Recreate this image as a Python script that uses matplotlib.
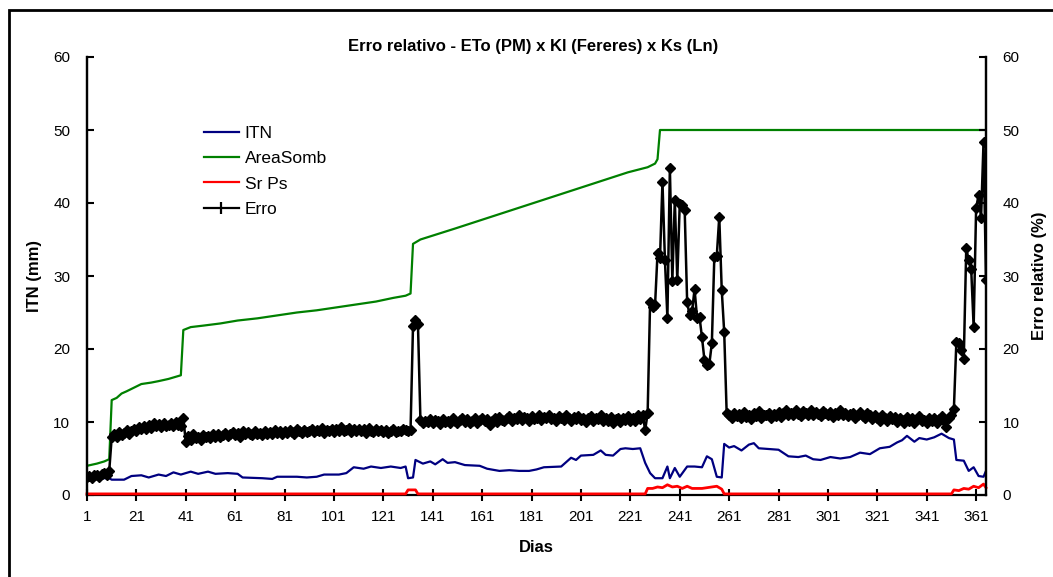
import matplotlib
matplotlib.use('Agg')
import matplotlib.pyplot as plt
import numpy as np
from matplotlib.lines import Line2D
from matplotlib.patches import Rectangle

plt.rcParams['font.family'] = ['Liberation Sans', 'DejaVu Sans']

# Erro relativo (%), um valor por dia (1..365)
erro = [
    2.4, 2.6, 2.3, 2.7, 2.8, 2.5, 2.9, 3.0, 2.8, 3.3,
    7.9, 8.3, 8.0, 8.6, 8.2, 8.5, 8.9, 8.4, 8.8, 9.1,
    8.7, 9.3, 9.0, 9.5, 9.1, 9.6, 9.2, 9.8, 9.4, 9.7,
    9.3, 9.9, 9.5, 9.6, 9.8, 9.4, 10.0, 9.6, 9.5, 10.6,
    7.2, 8.1, 7.6, 8.3, 7.8, 8.0, 7.5, 8.2, 7.9, 8.1,
    7.8, 8.3, 8.0, 8.4, 7.9, 8.2, 8.5, 8.1, 8.3, 8.6,
    8.2, 8.5, 8.0, 8.7, 8.3, 8.6, 8.4, 8.2, 8.7, 8.4,
    8.5, 8.2, 8.8, 8.4, 8.6, 8.3, 8.9, 8.5, 8.7, 8.4,
    8.8, 8.5, 8.9, 8.6, 8.4, 9.0, 8.7, 8.5, 8.9, 8.6,
    8.8, 9.1, 8.6, 8.9, 8.7, 9.2, 8.5, 8.9, 8.7, 9.0,
    8.6, 9.1, 8.8, 9.3, 8.7, 8.9, 9.2, 8.6, 9.0, 8.8,
    9.1, 8.7, 9.0, 8.5, 9.2, 8.8, 8.6, 9.0, 8.7, 8.9,
    8.6, 8.9, 8.5, 8.8, 9.0, 8.6, 8.8, 8.7, 9.0, 8.9,
    8.7, 8.9, 23.2, 24.0, 23.4, 10.3, 9.8, 10.2, 10.0, 10.4,
    9.9, 10.3, 10.1, 9.7, 10.4, 10.0, 10.2, 9.8, 10.5, 10.1,
    9.9, 10.3, 10.6, 10.0, 10.4, 9.8, 10.2, 10.5, 9.9, 10.3,
    10.6, 10.1, 10.4, 9.6, 10.2, 10.5, 10.0, 10.7, 10.3, 10.1,
    10.5, 10.8, 10.2, 10.6, 10.4, 10.9, 10.3, 10.7, 10.5, 10.2,
    10.8, 10.4, 10.6, 11.0, 10.3, 10.7, 10.5, 10.9, 10.4, 10.6,
    10.2, 10.8, 10.5, 10.3, 10.9, 10.6, 10.1, 10.7, 10.4, 10.8,
    10.3, 10.6, 10.0, 10.5, 10.8, 10.2, 10.6, 10.4, 10.9, 10.1,
    10.5, 10.2, 10.7, 9.8, 10.4, 10.6, 10.0, 10.5, 10.3, 10.8,
    10.2, 10.6, 10.1, 10.9, 10.4, 11.0, 8.9, 11.2,
    26.5, 25.7, 26.0, 33.1, 32.4, 42.9, 32.2, 24.3, 44.8, 29.3,
    40.4, 29.5, 39.9, 39.7, 39.0, 26.4, 24.6, 25.2, 28.2, 24.3,
    24.4, 21.6, 18.5, 17.8, 18.0, 20.8, 32.6, 32.8, 38.1, 28.1,
    22.3, 11.2,
    11.0, 10.6, 11.3, 10.8, 11.1, 10.5, 11.4, 10.7, 11.0, 10.4,
    11.2, 10.8, 11.5, 10.6, 11.0, 10.9, 11.3, 10.5, 11.1, 10.8,
    11.4, 10.7, 11.2, 11.6, 10.9, 11.3, 11.0, 11.7, 11.1, 10.8,
    11.5, 11.2, 11.0, 11.6, 10.9, 11.4, 11.1, 10.8, 11.5, 11.2,
    11.0, 11.4, 10.7, 11.3, 11.0, 11.6, 10.9, 11.2, 10.8, 11.1,
    11.3, 10.6, 11.0, 11.4, 10.8, 10.5, 11.2, 10.9, 10.4, 11.0,
    10.6, 10.2, 10.9, 10.5, 10.1, 10.8, 10.4, 10.7, 10.0, 10.6,
    10.3, 9.8, 10.7, 10.2, 10.5, 9.9, 10.4, 10.8, 10.1, 10.3,
    9.9, 10.6, 10.2, 10.5, 9.8, 10.4, 10.8, 10.1,
    9.3, 10.6, 11.0, 11.8,
    21.0, 20.8, 19.9, 18.6, 33.8, 32.2, 31.0, 23.0, 39.3, 41.1,
    37.9, 48.4, 29.5,
]

# ITN (mm)
itn_dias = [1, 10, 11, 16, 19, 23, 26, 30, 33, 36, 39, 43, 46, 50, 53, 58, 62, 64, 72, 76,
            78, 86, 90, 94, 97, 103, 106, 109, 113, 116, 120, 124, 128, 130, 131, 133, 134, 137, 140, 142,
            145, 147, 150, 154, 160, 163, 168, 172, 176, 180, 183, 186, 193, 197, 199, 201, 206, 209, 211, 214,
            217, 219, 222, 225, 227, 229, 231, 234, 236, 237, 239, 241, 244, 247, 250, 252, 254, 256, 258, 259,
            261, 263, 266, 269, 271, 273, 277, 281, 285, 289, 292, 295, 298, 302, 306, 310, 314, 318, 322, 326,
            329, 331, 333, 336, 338, 341, 344, 347, 350, 352, 353, 356, 358, 360, 362, 364, 365]
itn = [2.3, 2.3, 2.1, 2.1, 2.6, 2.7, 2.4, 2.8, 2.6, 3.1, 2.8, 3.2, 2.9, 3.2, 2.9, 3.0, 2.9, 2.4, 2.3, 2.2,
       2.5, 2.5, 2.4, 2.5, 2.8, 2.8, 3.0, 3.8, 3.6, 3.9, 3.7, 3.9, 3.7, 3.9, 2.3, 2.4, 4.8, 4.3, 4.6, 4.2,
       4.9, 4.4, 4.5, 4.1, 4.0, 3.6, 3.3, 3.4, 3.3, 3.3, 3.5, 3.8, 3.9, 5.1, 4.8, 5.4, 5.5, 6.1, 5.5, 5.4,
       6.3, 6.4, 6.3, 6.4, 4.4, 3.0, 2.3, 2.3, 3.9, 2.3, 3.7, 2.5, 3.9, 3.9, 3.8, 5.3, 4.9, 2.5, 2.4, 7.0,
       6.5, 6.7, 6.1, 6.9, 7.1, 6.4, 6.3, 6.2, 5.3, 5.2, 5.4, 4.9, 4.8, 5.2, 5.0, 5.2, 5.8, 5.6, 6.4, 6.6,
       7.2, 7.5, 8.1, 7.3, 7.8, 7.6, 7.9, 8.4, 7.8, 7.6, 4.8, 4.7, 3.3, 3.8, 2.6, 2.5, 3.3]

# AreaSomb
area_dias = [1, 5, 8, 10, 11, 13, 15, 17, 20, 23, 27, 30, 34, 38, 39, 40, 43, 48, 55, 62,
             70, 78, 86, 94, 102, 110, 118, 125, 130, 132, 133, 136, 150, 170, 190, 210, 220, 228, 231, 232,
             233, 365]
area = [4.0, 4.3, 4.6, 4.9, 13.0, 13.3, 13.9, 14.2, 14.7, 15.2, 15.4, 15.6, 15.9, 16.3, 16.4, 22.6, 23.0, 23.2, 23.5, 23.9,
        24.2, 24.6, 25.0, 25.3, 25.7, 26.1, 26.5, 27.0, 27.3, 27.6, 34.4, 35.0, 36.5, 38.7, 40.9, 43.1, 44.2, 44.9, 45.4, 46.0,
        50.0, 50.0]

# Sr Ps
srps_dias = [1, 130, 131, 134, 135, 227, 228, 230, 232, 234, 236, 238, 240, 242, 244, 246, 250, 254, 256, 258,
             259, 351, 352, 354, 356, 358, 360, 362, 364, 365]
srps = [0.15, 0.15, 0.7, 0.7, 0.15, 0.15, 0.9, 0.9, 1.1, 1.0, 1.4, 1.1, 1.2, 0.9, 1.2, 0.9, 0.9, 1.1, 1.2, 0.8,
        0.15, 0.15, 0.7, 0.6, 0.9, 0.8, 1.2, 1.0, 1.5, 1.0]

dias_ticks = list(range(1, 366, 20))
y_ticks = [0, 10, 20, 30, 40, 50, 60]

fig = plt.figure(figsize=(10.53, 5.77), dpi=100)
ax = fig.add_axes([87 / 1053, 1 - 495 / 577, (986 - 87) / 1053, (495 - 57) / 577])

ax.plot(itn_dias, itn, color='#000080', lw=1.6, label='ITN')
ax.plot(area_dias, area, color='#008000', lw=1.6, label='AreaSomb')
ax.plot(srps_dias, srps, color='#ff0000', lw=2, label='Sr Ps', zorder=3, clip_on=False)

ax2 = ax.twinx()
dias = np.arange(1, len(erro) + 1)
ax2.plot(dias, erro, color='black', lw=1.8, marker='D', ms=5, label='Erro')

for a in (ax, ax2):
    a.set_xlim(1, 365)
    a.set_ylim(0, 60)
    a.set_yticks(y_ticks)
    for s in a.spines.values():
        s.set_linewidth(1.6)
    a.spines['top'].set_visible(False)
ax2.spines['bottom'].set_visible(False)

ax.set_xticks(dias_ticks)
ax.tick_params(axis='x', direction='inout', length=9, width=1.5, pad=6, labelsize=11)
ax.tick_params(axis='y', direction='in', length=5, width=1.5, pad=12, labelsize=11)
ax2.tick_params(axis='y', direction='in', length=5, width=1.5, pad=12, labelsize=11)

ax.set_ylabel('ITN (mm)', fontsize=12, fontweight='bold', labelpad=8)
ax2.set_ylabel('Erro relativo (%)', fontsize=12, fontweight='bold', labelpad=9)
ax.set_xlabel('Dias', fontsize=12, fontweight='bold', labelpad=12)
fig.text(533 / 1053, 1 - 46 / 577, 'Erro relativo - ETo (PM) x Kl (Fereres) x Ks (Ln)',
         ha='center', va='center', fontsize=12, fontweight='bold')

# legenda
handles = [Line2D([], [], color='#000080', lw=1.6),
           Line2D([], [], color='#008000', lw=1.6),
           Line2D([], [], color='#ff0000', lw=1.6),
           Line2D([], [], color='black', lw=1.6, marker='|', ms=9, mew=1.6)]
fig.legend(handles, ['ITN', 'AreaSomb', 'Sr Ps', 'Erro'], loc='upper left',
           bbox_to_anchor=(197 / 1053, 1 - 119 / 577), frameon=False, fontsize=12.5,
           handlelength=2.0, handletextpad=0.35, labelspacing=0.58, borderaxespad=0)

# moldura da figura
fig.patches.append(Rectangle((9 / 1053, -0.1), 1.2, 1 - 10 / 577 + 0.1, transform=fig.transFigure,
                             fill=False, edgecolor='black', lw=2))

fig.savefig('out.png', dpi=100)
